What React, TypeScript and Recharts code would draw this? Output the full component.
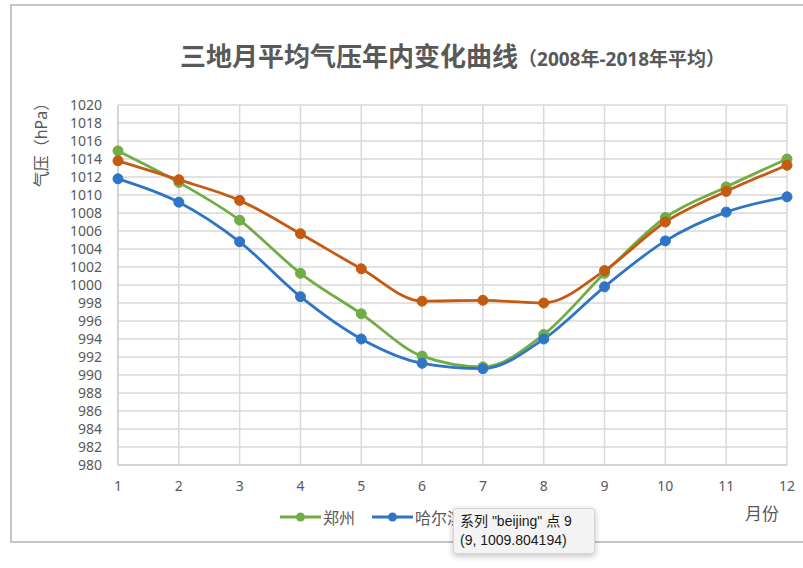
import React from "react";
import {
  LineChart,
  Line,
  XAxis,
  YAxis,
  CartesianGrid,
} from "recharts";

const months = [1, 2, 3, 4, 5, 6, 7, 8, 9, 10, 11, 12];
const zhengzhou = [1014.9, 1011.4, 1007.2, 1001.3, 996.8, 992.1, 990.9, 994.5, 1001.3, 1007.5, 1010.9, 1014.0];
const harbin = [1011.8, 1009.2, 1004.8, 998.7, 994.0, 991.3, 990.7, 994.0, 999.8, 1004.9, 1008.1, 1009.8];
const beijing = [1013.8, 1011.7, 1009.4, 1005.7, 1001.8, 998.2, 998.3, 998.0, 1001.6, 1007.0, 1010.4, 1013.3];
const yTicks = [980, 982, 984, 986, 988, 990, 992, 994, 996, 998, 1000, 1002, 1004, 1006, 1008, 1010, 1012, 1014, 1016, 1018, 1020];

const seriesInfo = [
  { key: "zhengzhou", name: "郑州", color: "#70ad47" },
  { key: "harbin", name: "哈尔滨", color: "#2e75c6" },
  { key: "beijing", name: "北京", color: "#c55a11" },
];

const data = months.map((m, i) => ({
  month: m,
  zhengzhou: zhengzhou[i],
  harbin: harbin[i],
  beijing: beijing[i],
}));

const font = '"Noto Sans", "Noto Sans CJK SC", sans-serif';
const gray = "#595959";

export default function App() {
  return (
    <div style={{ position: "absolute", left: 0, top: 0, width: 803, height: 568, overflow: "hidden", background: "#fff" }}>
      <div style={{ position: "absolute", left: 10, top: 4, width: 793, height: 535, borderLeft: "2px solid #c6c6c6", borderTop: "2px solid #c6c6c6", borderBottom: "2px solid #c6c6c6" }} />
      <LineChart
        width={803}
        height={568}
        data={data}
        margin={{ top: 105, right: 16, left: 58, bottom: 73 }}
      >
        <CartesianGrid stroke="#d9d9d9" strokeWidth={1.5} />
        <XAxis
          dataKey="month"
          height={30}
          tickLine={false}
          tickSize={0}
          tickMargin={16}
          axisLine={{ stroke: "#cfcfcf", strokeWidth: 1.5 }}
          tick={{ fill: gray, fontSize: 14, fontFamily: font }}
        />
        <YAxis
          domain={[980, 1020]}
          ticks={yTicks}
          interval={0}
          width={60}
          tickLine={false}
          tickSize={0}
          tickMargin={16}
          axisLine={{ stroke: "#cfcfcf", strokeWidth: 1.5 }}
          tick={{ fill: gray, fontSize: 14, fontFamily: font }}
        />
        {seriesInfo.map((s) => (
          <Line
            key={s.key}
            dataKey={s.key}
            name={s.name}
            type="monotone"
            stroke={s.color}
            strokeWidth={2.8}
            dot={{ r: 5, fill: s.color, stroke: s.color, strokeWidth: 1 }}
            isAnimationActive={false}
          />
        ))}
      </LineChart>
      <div style={{ position: "absolute", left: 280, top: 505, display: "flex", alignItems: "center", fontFamily: font, fontSize: 16, color: gray }}>
        {seriesInfo.map((s) => (
          <div key={s.key} style={{ display: "flex", alignItems: "center", marginRight: 17 }}>
            <svg width={41} height={12}>
              <line x1={0} y1={6} x2={41} y2={6} stroke={s.color} strokeWidth={3} />
              <circle cx={20.5} cy={6} r={4.5} fill={s.color} />
            </svg>
            <span style={{ marginLeft: 2 }}>{s.name}</span>
          </div>
        ))}
      </div>
      <div style={{ position: "absolute", left: 180, top: 36, fontFamily: font, color: gray, whiteSpace: "nowrap" }}>
        <span style={{ fontSize: 26, fontWeight: 600 }}>三地月平均气压年内变化曲线</span>
        <span style={{ fontSize: 19, fontWeight: 700 }}>（2008年-2018年平均）</span>
      </div>
      <div style={{ position: "absolute", left: 40, top: 141, transform: "translate(-50%, -50%) rotate(-90deg)", fontFamily: font, fontSize: 16, color: gray, whiteSpace: "nowrap" }}>
        气压（hPa）
      </div>
      <div style={{ position: "absolute", left: 745, top: 500, fontFamily: font, fontSize: 17, color: gray }}>
        月份
      </div>
      <div style={{ position: "absolute", left: 453, top: 508, width: 128, padding: "3px 6px", background: "#f4f4f4", border: "1px solid #d6d6d6", borderRadius: 3, boxShadow: "0 2px 6px rgba(0,0,0,0.25)", fontFamily: '"Liberation Sans", "Noto Sans CJK SC", sans-serif', fontSize: 14, lineHeight: "19px", color: "#1a1a1a", whiteSpace: "nowrap" }}>
        <div>系列 "beijing" 点 9</div>
        <div>(9, 1009.804194)</div>
      </div>
    </div>
  );
}
